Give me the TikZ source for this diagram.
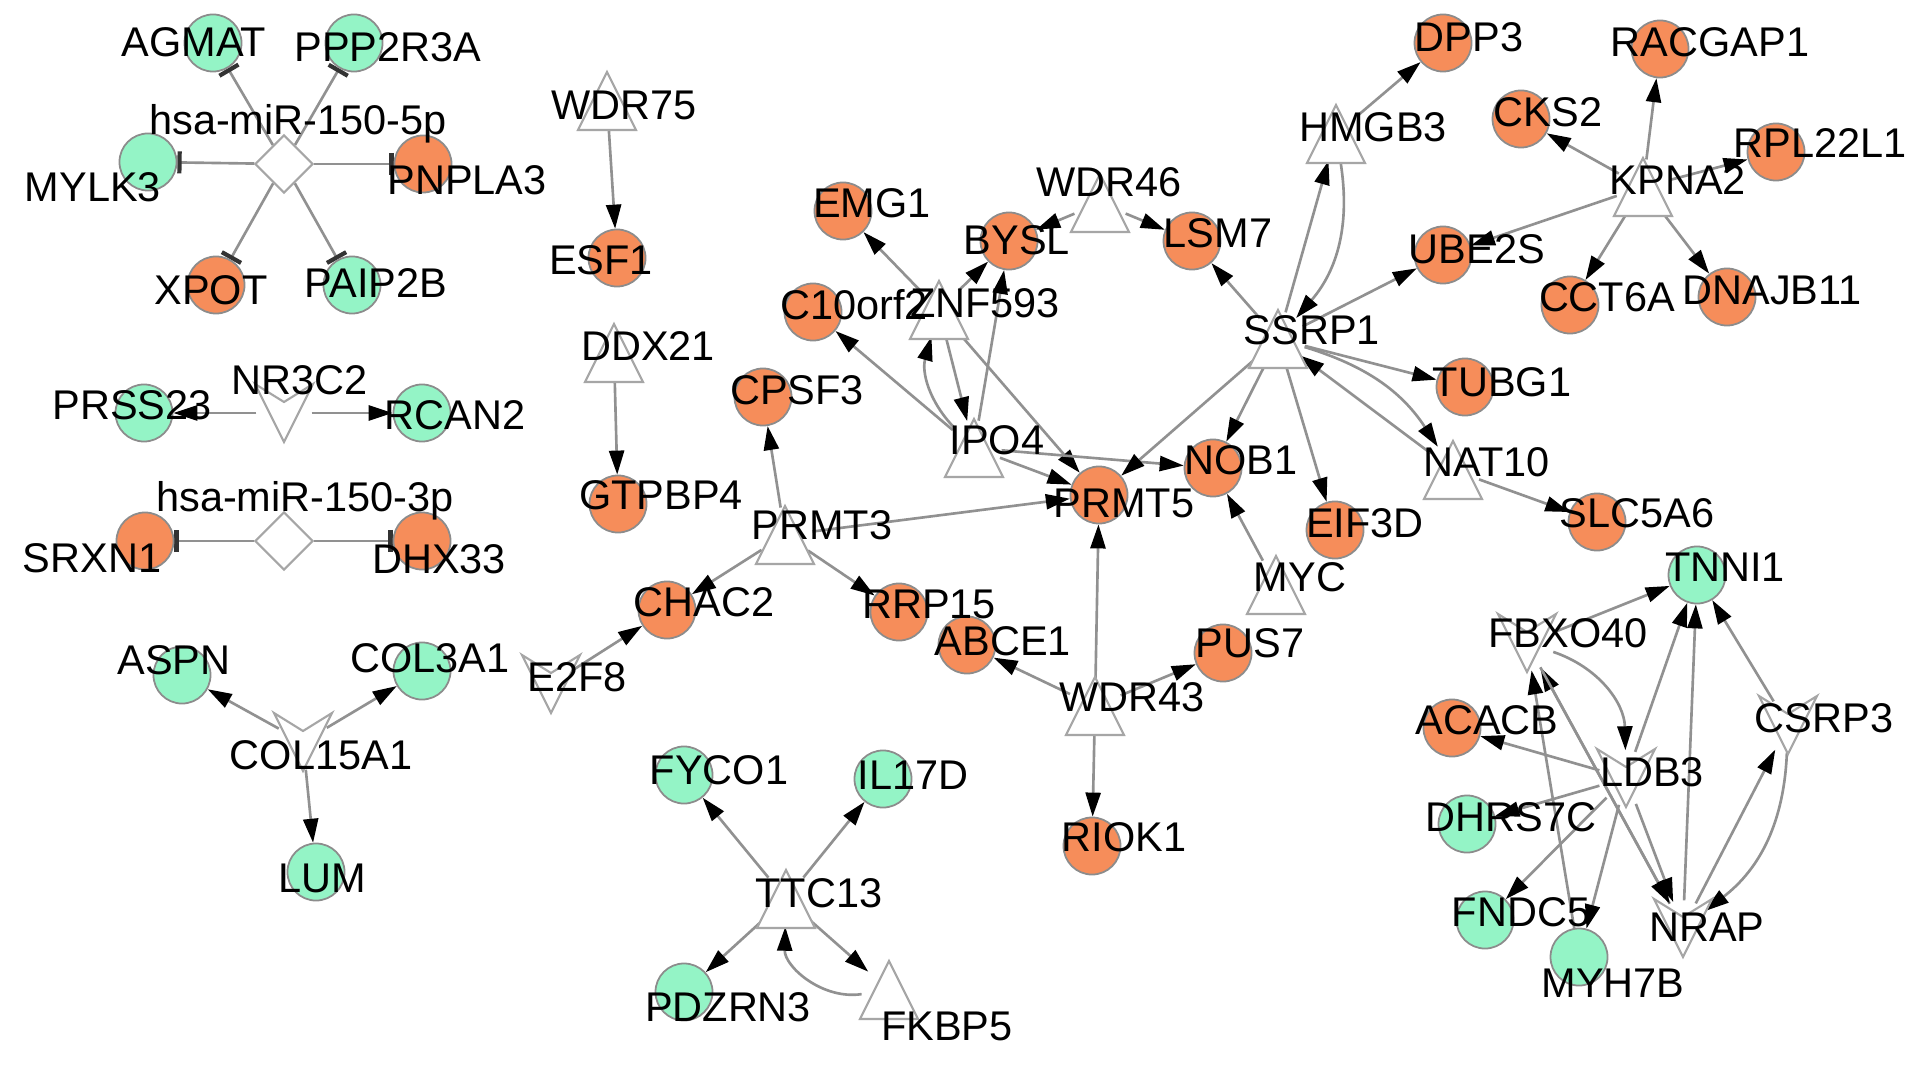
\documentclass[tikz,border=0pt]{standalone}
\usepackage{fontspec}
\setmainfont{Liberation Sans}
\usetikzlibrary{arrows.meta,shapes.geometric}
\definecolor{orangec}{RGB}{246,141,90}
\definecolor{greenc}{RGB}{148,244,198}
\definecolor{edgec}{RGB}{145,145,145}
\pgfdeclarelayer{bg}
\pgfsetlayers{bg,main}
\newcommand\mytri[3]{\node[anch] (#1) at (#2,#3) {};\draw[shp] (#2-29,#3+29) -- (#2,#3-29) -- (#2+29,#3+29) -- cycle;}
\newcommand\myvee[3]{\node[anch] (#1) at (#2,#3) {};\draw[shp] (#2-29,#3-29) -- (#2,#3-11) -- (#2+29,#3-29) -- (#2,#3+29) -- cycle;}
\begin{document}
\begin{tikzpicture}[x=0.01cm,y=-0.01cm,
  circ/.style={circle, draw=black!45, line width=0.5pt, minimum size=0.57cm, inner sep=0pt},
  og/.style={circ, fill=orangec},
  gr/.style={circ, fill=greenc},
  anch/.style={circle, minimum size=0.54cm, inner sep=0pt},
  shp/.style={draw=black!35, fill=white, line width=0.6pt},
  dia/.style={diamond, aspect=1, draw=black!35, fill=white, line width=0.6pt, minimum width=0.58cm, minimum height=0.58cm, inner sep=0pt},
  ed/.style={draw=edgec, line width=0.75pt, -{Triangle[length=0.24cm,width=0.15cm,color=black]}},
  tee/.style={draw=edgec, line width=0.75pt, -{Bar[width=0.22cm,line width=1.2pt,color=black!80]}},
  lab/.style={font=\fontsize{11.8}{12}\selectfont, inner sep=0pt, text height=8.5pt, text depth=0pt}
]
\useasboundingbox (0,0) rectangle (1925,1064);
% group miR-150-5p
\node[dia] (M5) at (284,164) {};
\node[gr] (AGMAT) at (213,43) {};
\node[gr] (PPP2R3A) at (354,43) {};
\node[gr] (MYLK3) at (148,162) {};
\node[og] (PNPLA3) at (423,164) {};
\node[og] (XPOT) at (216,285) {};
\node[gr] (PAIP2B) at (352,285) {};
% NR3C2
\myvee{NR3C2}{284}{413}
\node[gr] (PRSS23) at (144,413) {};
\node[gr] (RCAN2) at (422,413) {};
% miR-150-3p
\node[dia] (M3) at (284,541) {};
\node[og] (SRXN1) at (145,541) {};
\node[og] (DHX33) at (422,541) {};
% COL15A1
\myvee{COL15A1}{303}{742}
\node[gr] (ASPN) at (182,675) {};
\node[gr] (COL3A1) at (422,671) {};
\node[gr] (LUM) at (316,872) {};
% WDR75, DDX21
\mytri{WDR75}{607}{101}
\node[og] (ESF1) at (617,258) {};
\mytri{DDX21}{614}{353}
\node[og] (GTPBP4) at (618,504) {};
% TTC13
\mytri{TTC13}{786}{899}
\node[gr] (FYCO1) at (684,775) {};
\node[gr] (IL17D) at (883,779) {};
\node[gr] (PDZRN3) at (684,992) {};
\mytri{FKBP5}{889}{990}
% central
\node[og] (EMG1) at (843,211) {};
\node[og] (C10orf2) at (813,312) {};
\mytri{ZNF593}{939}{310}
\node[og] (BYSL) at (1009,241) {};
\mytri{WDR46}{1100}{203}
\node[og] (LSM7) at (1192,241) {};
\mytri{HMGB3}{1336}{134}
\node[og] (DPP3) at (1443,43) {};
\mytri{SSRP1}{1278}{339}
\node[og] (UBE2S) at (1443,255) {};
\node[og] (RACGAP1) at (1660,49) {};
\node[og] (CKS2) at (1521,119) {};
\node[og] (RPL22L1) at (1776,152) {};
\mytri{KPNA2}{1643}{187}
\node[og] (CCT6A) at (1570,305) {};
\node[og] (DNAJB11) at (1727,297) {};
\node[og] (TUBG1) at (1465,387) {};
\mytri{NAT10}{1453}{470}
\node[og] (SLC5A6) at (1597,522) {};
\node[og] (CPSF3) at (763,397) {};
\mytri{IPO4}{974}{448}
\node[og] (PRMT5) at (1099,495) {};
\node[og] (NOB1) at (1213,468) {};
\node[og] (EIF3D) at (1335,530) {};
\mytri{MYC}{1276}{585}
\mytri{PRMT3}{785}{535}
\node[og] (CHAC2) at (667,610) {};
\node[og] (RRP15) at (899,612) {};
\myvee{E2F8}{551}{684}
\node[og] (ABCE1) at (967,645) {};
\node[og] (PUS7) at (1223,653) {};
\mytri{WDR43}{1095}{706}
\node[og] (RIOK1) at (1092,846) {};
% right cluster
\node[gr] (TNNI1) at (1697,575) {};
\myvee{FBXO40}{1527}{643}
\myvee{CSRP3}{1788}{725}
\node[og] (ACACB) at (1452,728) {};
\myvee{LDB3}{1626}{778}
\node[gr] (DHRS7C) at (1467,824) {};
\node[gr] (FNDC5) at (1485,920) {};
\node[gr] (MYH7B) at (1579,957) {};
\myvee{NRAP}{1683}{928}

\begin{pgfonlayer}{bg}
\fill[white] (0,0) rectangle (1925,1064);
\foreach \t in {AGMAT,PPP2R3A,MYLK3,PNPLA3,XPOT,PAIP2B} \path[tee] (M5) -- (\t);
\foreach \t in {SRXN1,DHX33} \path[tee] (M3) -- (\t);
\path[ed] (NR3C2) -- (PRSS23);
\path[ed] (NR3C2) -- (RCAN2);
\foreach \t in {ASPN,COL3A1,LUM} \path[ed] (COL15A1) -- (\t);
\path[ed] (WDR75) -- (ESF1);
\path[ed] (DDX21) -- (GTPBP4);
\foreach \t in {FYCO1,IL17D,PDZRN3,FKBP5} \path[ed] (TTC13) -- (\t);
\path[ed] (FKBP5) to[bend left=50] (TTC13);
\path[ed] (WDR46) -- (BYSL);
\path[ed] (WDR46) -- (LSM7);
\path[ed] (ZNF593) -- (EMG1);
\path[ed] (ZNF593) -- (BYSL);
\path[ed] (IPO4) -- (BYSL);
\path[ed] (IPO4) -- (C10orf2);
\path[ed] (ZNF593) -- (IPO4);
\path[ed] (IPO4) to[bend left=30] (ZNF593);
\path[ed] (ZNF593) -- (PRMT5);
\path[ed] (IPO4) -- (PRMT5);
\path[ed] (IPO4) -- (NOB1);
\foreach \t in {PRMT5,CPSF3,CHAC2,RRP15} \path[ed] (PRMT3) -- (\t);
\path[ed] (E2F8) -- (CHAC2);
\foreach \t in {PRMT5,NOB1,EIF3D,LSM7,HMGB3,UBE2S,TUBG1} \path[ed] (SSRP1) -- (\t);
\path[ed] (HMGB3) to[bend left=25] (SSRP1);
\path[ed] (HMGB3) -- (DPP3);
\foreach \t in {UBE2S,RACGAP1,CKS2,RPL22L1,CCT6A,DNAJB11} \path[ed] (KPNA2) -- (\t);
\path[ed] (SSRP1) to[bend left=20] (NAT10);
\path[ed] (NAT10) -- (SSRP1);
\path[ed] (NAT10) -- (SLC5A6);
\path[ed] (MYC) -- (NOB1);
\foreach \t in {PRMT5,ABCE1,PUS7,RIOK1} \path[ed] (WDR43) -- (\t);
% right cluster
\foreach \s in {FBXO40,LDB3,NRAP,CSRP3} \path[ed] (\s) -- (TNNI1);
\path[ed] (MYH7B) -- (FBXO40);
\path[ed] (NRAP) -- (FBXO40);
\path[ed] (FBXO40) -- (NRAP);
\path[ed] (FBXO40) to[bend left=35] (LDB3);
\foreach \t in {ACACB,DHRS7C,FNDC5,MYH7B,NRAP} \path[ed] (LDB3) -- (\t);
\path[ed] (NRAP) -- (CSRP3);
\path[ed] (CSRP3) to[bend left=25] (NRAP);
\end{pgfonlayer}

% labels
\node[lab] (M5l) at (298,120) {hsa-miR-150-5p};
\node[lab] (AGMATl) at (194,42) {AGMAT};
\node[lab] (PPP2R3Al) at (388,47) {PPP2R3A};
\node[lab] (MYLK3l) at (93,187) {MYLK3};
\node[lab] (PNPLA3l) at (467,180) {PNPLA3};
\node[lab] (XPOTl) at (211,290) {XPOT};
\node[lab] (PAIP2Bl) at (376,283) {PAIP2B};
\node[lab] (NR3C2l) at (300,380) {NR3C2};
\node[lab] (PRSS23l) at (132,405) {PRSS23};
\node[lab] (RCAN2l) at (455,415) {RCAN2};
\node[lab] (M3l) at (305,497) {hsa-miR-150-3p};
\node[lab] (SRXN1l) at (92,558) {SRXN1};
\node[lab] (DHX33l) at (439,559) {DHX33};
\node[lab] (COL15A1l) at (321,755) {COL15A1};
\node[lab] (ASPNl) at (174,660) {ASPN};
\node[lab] (COL3A1l) at (430,658) {COL3A1};
\node[lab] (LUMl) at (322,878) {LUM};
\node[lab] (WDR75l) at (624,105) {WDR75};
\node[lab] (ESF1l) at (601,260) {ESF1};
\node[lab] (DDX21l) at (648,346) {DDX21};
\node[lab] (GTPBP4l) at (661,495) {GTPBP4};
\node[lab] (TTC13l) at (819,893) {TTC13};
\node[lab] (FYCO1l) at (719,770) {FYCO1};
\node[lab] (IL17Dl) at (913,775) {IL17D};
\node[lab] (PDZRN3l) at (728,1007) {PDZRN3};
\node[lab] (FKBP5l) at (947,1026) {FKBP5};
\node[lab] (EMG1l) at (872,203) {EMG1};
\node[lab] (C10orf2l) at (854,305) {C10orf2};
\node[lab] (ZNF593l) at (985,303) {ZNF593};
\node[lab] (BYSLl) at (1017,240) {BYSL};
\node[lab] (WDR46l) at (1109,182) {WDR46};
\node[lab] (LSM7l) at (1218,233) {LSM7};
\node[lab] (HMGB3l) at (1373,127) {HMGB3};
\node[lab] (DPP3l) at (1469,37) {DPP3};
\node[lab] (SSRP1l) at (1312,330) {SSRP1};
\node[lab] (UBE2Sl) at (1477,249) {UBE2S};
\node[lab] (RACGAP1l) at (1710,42) {RACGAP1};
\node[lab] (CKS2l) at (1548,112) {CKS2};
\node[lab] (RPL22L1l) at (1820,143) {RPL22L1};
\node[lab] (KPNA2l) at (1678,180) {KPNA2};
\node[lab] (CCT6Al) at (1607,297) {CCT6A};
\node[lab] (DNAJB11l) at (1772,290) {DNAJB11};
\node[lab] (TUBG1l) at (1502,382) {TUBG1};
\node[lab] (NAT10l) at (1487,462) {NAT10};
\node[lab] (SLC5A6l) at (1637,513) {SLC5A6};
\node[lab] (CPSF3l) at (797,390) {CPSF3};
\node[lab] (IPO4l) at (997,440) {IPO4};
\node[lab] (PRMT5l) at (1124,503) {PRMT5};
\node[lab] (NOB1l) at (1241,460) {NOB1};
\node[lab] (EIF3Dl) at (1365,523) {EIF3D};
\node[lab] (MYCl) at (1300,577) {MYC};
\node[lab] (PRMT3l) at (822,525) {PRMT3};
\node[lab] (CHAC2l) at (704,602) {CHAC2};
\node[lab] (RRP15l) at (929,604) {RRP15};
\node[lab] (E2F8l) at (577,677) {E2F8};
\node[lab] (ABCE1l) at (1003,641) {ABCE1};
\node[lab] (PUS7l) at (1250,643) {PUS7};
\node[lab] (WDR43l) at (1132,697) {WDR43};
\node[lab] (RIOK1l) at (1124,837) {RIOK1};
\node[lab] (TNNI1l) at (1725,567) {TNNI1};
\node[lab] (FBXO40l) at (1568,633) {FBXO40};
\node[lab] (CSRP3l) at (1824,718) {CSRP3};
\node[lab] (ACACBl) at (1487,720) {ACACB};
\node[lab] (LDB3l) at (1652,772) {LDB3};
\node[lab] (DHRS7Cl) at (1511,817) {DHRS7C};
\node[lab] (FNDC5l) at (1521,912) {FNDC5};
\node[lab] (MYH7Bl) at (1613,983) {MYH7B};
\node[lab] (NRAPl) at (1707,927) {NRAP};
\end{tikzpicture}
\end{document}
